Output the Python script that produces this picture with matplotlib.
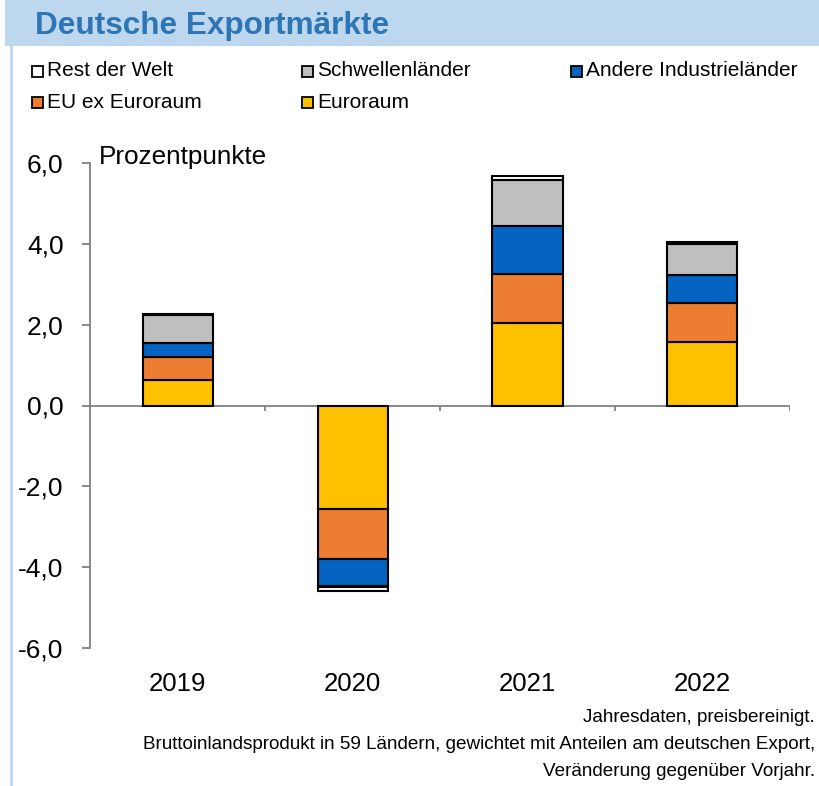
import matplotlib
matplotlib.use("Agg")
import matplotlib.pyplot as plt
import numpy as np
from matplotlib.patches import Rectangle

plt.rcParams['font.family'] = ['Liberation Sans', 'DejaVu Sans']

years = ["2019", "2020", "2021", "2022"]
series_names = ["Euroraum", "EU ex Euroraum", "Andere Industrieländer", "Schwellenländer", "Rest der Welt"]
euroraum = [0.64, -2.57, 2.04, 1.56]
eu_ex = [0.56, -1.23, 1.22, 0.97]
andere = [0.35, -0.66, 1.17, 0.69]
schwellen = [0.69, -0.02, 1.16, 0.77]
rest = [0.02, -0.10, 0.10, 0.05]
colors = ["#FFC000", "#ED7D31", "#0563C1", "#BFBFBF", "#FFFFFF"]
yticks = [-6, -4, -2, 0, 2, 4, 6]

W, H = 819, 786
fig = plt.figure(figsize=(W/100, H/100), dpi=100)

# header band
fig.patches.append(Rectangle((5/W, 1-46/H), 1, 46/H, transform=fig.transFigure,
                             facecolor="#BDD7EE", edgecolor="none", zorder=0))
fig.lines.append(plt.Line2D([11/W, 11/W], [0, 1-46/H], transform=fig.transFigure,
                            color="#BDD7EE", lw=2))
fig.text(35/W, 1-26/H, "Deutsche Exportmärkte", fontsize=22.7, fontweight="bold",
         color="#2E75B6", va="center", ha="left")

# legend
leg_pos = [(32, 71), (302, 71), (571, 71), (32, 102), (302, 102)]
leg_order = [4, 3, 2, 1, 0]
for (x, y), idx in zip(leg_pos, leg_order):
    fig.patches.append(Rectangle((x/W, 1-(y+6)/H), 11/W, 11/H, transform=fig.transFigure,
                                 facecolor=colors[idx], edgecolor="black", lw=1.3))
    fig.text((x+15)/W, 1-y/H, series_names[idx], fontsize=15, va="center", ha="left")

ax = fig.add_axes([90/W, 1-648/H, 700/W, 485/H])
x = np.arange(len(years))
data = [euroraum, eu_ex, andere, schwellen, rest]
pos_base = np.zeros(len(years))
neg_base = np.zeros(len(years))
for vals, c in zip(data, colors):
    vals = np.array(vals)
    base = np.where(vals >= 0, pos_base, neg_base)
    ax.bar(x, vals, width=0.4, bottom=base, color=c, edgecolor="black", linewidth=1.5, zorder=3)
    pos_base = pos_base + np.where(vals >= 0, vals, 0)
    neg_base = neg_base + np.where(vals < 0, vals, 0)

ax.set_xlim(-0.5, len(years) - 0.5)
ax.set_ylim(-6, 6)
ax.set_yticks(yticks)
ax.set_yticklabels([f"{v:.1f}".replace(".", ",") for v in yticks], fontsize=19)
ax.set_xticks(x)
ax.set_xticklabels(years, fontsize=18.5)
ax.tick_params(axis="x", length=0, pad=17)
ax.tick_params(axis="y", length=6, color="#808080", width=1.3, pad=13)
for s in ["top", "right", "bottom"]:
    ax.spines[s].set_visible(False)
ax.spines["left"].set_color("#808080")
ax.spines["left"].set_linewidth(1.3)
ax.axhline(0, color="#808080", lw=1.3, zorder=2)
bounds = np.arange(len(years)) + 0.5
ax.vlines(bounds, -0.13, 0, color="#808080", lw=1.3, zorder=2)

fig.text(99/W, 1-157/H, "Prozentpunkte", fontsize=18.8, va="center", ha="left")

notes = ["Jahresdaten, preisbereinigt.",
         "Bruttoinlandsprodukt in 59 Ländern, gewichtet mit Anteilen am deutschen Export,",
         "Veränderung gegenüber Vorjahr."]
for i, t in enumerate(notes):
    fig.text(815/W, 1-(718+26.5*i)/H, t, fontsize=13.6, ha="right", va="center")

fig.savefig("out.png", dpi=100)
